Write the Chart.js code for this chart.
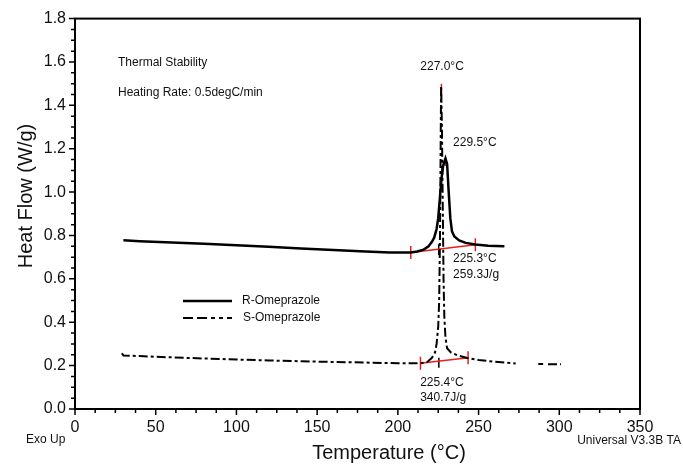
<!DOCTYPE html>
<html lang="en">
<head>
<meta charset="UTF-8">
<title>Thermal Stability</title>
<script src="https://cdn.jsdelivr.net/npm/chart.js"></script>
<style>
  body { margin: 0; background: #fff; }
  #wrap { width: 683px; height: 466px; position: relative; }
</style>
</head>
<body>
<div id="wrap"><canvas id="dsc"></canvas></div>
<script>
// R-Omeprazole trace (temperature in degC, heat flow in W/g)
const rTemp = [30, 40, 60, 80, 100, 120, 140, 160, 180, 195, 208, 212, 216, 219, 221, 222.5, 224, 225, 226, 227, 228, 229.5, 230.5, 231.5, 232.5, 233.5, 235, 238, 242, 248, 256, 266];
const rFlow = [0.778, 0.774, 0.768, 0.762, 0.755, 0.748, 0.740, 0.733, 0.726, 0.722, 0.722, 0.726, 0.735, 0.75, 0.77, 0.79, 0.83, 0.88, 0.97, 1.06, 1.12, 1.155, 1.13, 1.0, 0.88, 0.82, 0.795, 0.777, 0.766, 0.758, 0.753, 0.75];

// S-Omeprazole trace (null = gap in the recording)
const sTemp = [29, 30, 40, 60, 80, 100, 120, 140, 160, 180, 200, 214, 218, 221, 223, 224, 225, 225.6, 226.1, 226.5, 226.8, 227.3, 227.8, 228.3, 228.8, 229.5, 230.5, 233, 237, 243, 250, 260, 266, 273, 275, 287, 290, 291.5, 293, 301];
const sFlow = [0.257, 0.247, 0.244, 0.238, 0.233, 0.228, 0.224, 0.220, 0.217, 0.214, 0.211, 0.211, 0.216, 0.235, 0.26, 0.30, 0.38, 0.5, 0.8, 1.2, 1.49, 1.3, 0.95, 0.6, 0.42, 0.33, 0.28, 0.26, 0.247, 0.235, 0.226, 0.218, 0.214, 0.21, null, 0.207, 0.207, null, 0.206, 0.206];

// integration baselines and marks (red)
const rBaseT = [208, 248];
const rBaseF = [0.722, 0.757];
const sBaseT = [214, 243.5];
const sBaseF = [0.211, 0.236];
const rPeakT = 229.5, rPeakF = [1.12, 1.16];
const sPeakT = 227.0, sPeakF = [1.43, 1.50];
const rOnsetT = 225.3, rOnsetF = [0.71, 0.76];
const sOnsetT = 225.4, sOnsetF = [0.19, 0.236];

const xTickStep = 50, xMinorStep = 12.5;
const yTickStep = 0.2, yMinorStep = 0.05;

const font = '"Liberation Sans", Arial, Helvetica, sans-serif';

function pts(t, f) {
    return t.map((v, i) => ({ x: v, y: f[i] }));
}
function vtick(t, f) {
    return [{ x: t, y: f[0] }, { x: t, y: f[1] }];
}
function markSet(data, color, w) {
    return { data: data, borderColor: color, borderWidth: w, pointRadius: 0, showLine: true, fill: false };
}

const redMarks = [
    markSet(pts(rBaseT, rBaseF), '#e8201c', 1.5),
    markSet(pts(sBaseT, sBaseF), '#e8201c', 1.5),
    markSet(vtick(rBaseT[0], [rBaseF[0] - 0.03, rBaseF[0] + 0.03]), '#e8201c', 1.5),
    markSet(vtick(rBaseT[1], [rBaseF[1] - 0.03, rBaseF[1] + 0.03]), '#e8201c', 1.5),
    markSet(vtick(sBaseT[0], [sBaseF[0] - 0.03, sBaseF[0] + 0.03]), '#e8201c', 1.5),
    markSet(vtick(sBaseT[1], [sBaseF[1] - 0.03, sBaseF[1] + 0.03]), '#e8201c', 1.5),
    markSet(vtick(rPeakT, rPeakF), '#e8201c', 1.5),
    markSet(vtick(sPeakT, sPeakF), '#e8201c', 1.5),
    markSet(vtick(rOnsetT, rOnsetF), '#000', 1.5),
    markSet(vtick(sOnsetT, sOnsetF), '#000', 1.5)
];

// frame, minor ticks and the text annotations
const decor = {
    id: 'decor',
    afterDraw(chart) {
        const { ctx, chartArea: a, scales: { x, y } } = chart;
        ctx.save();
        ctx.strokeStyle = '#000';
        ctx.lineWidth = 2;
        ctx.strokeRect(a.left, a.top, a.right - a.left, a.bottom - a.top);

        ctx.lineWidth = 1.5;
        ctx.beginPath();
        for (let v = 0; v <= 350.01; v += xMinorStep) {
            const px = x.getPixelForValue(v);
            const len = Math.abs(v % xTickStep) < 1e-6 ? 6 : 4;
            ctx.moveTo(px, a.bottom);
            ctx.lineTo(px, a.bottom + len);
        }
        for (let v = 0; v <= 1.8001; v += yMinorStep) {
            const py = y.getPixelForValue(v);
            const major = Math.abs(v / yTickStep - Math.round(v / yTickStep)) < 1e-6;
            ctx.moveTo(a.left, py);
            ctx.lineTo(a.left - (major ? 6 : 4), py);
        }
        ctx.stroke();

        // legend
        const lx0 = 183, lx1 = 232;
        ctx.lineWidth = 2.5;
        ctx.beginPath(); ctx.moveTo(lx0, 301); ctx.lineTo(lx1, 301); ctx.stroke();
        ctx.lineWidth = 2;
        ctx.setLineDash([10, 4, 10, 4, 4, 4, 4, 4]);
        ctx.beginPath(); ctx.moveTo(lx0, 318); ctx.lineTo(lx1, 318); ctx.stroke();
        ctx.setLineDash([]);

        ctx.fillStyle = '#111';
        ctx.textBaseline = 'middle';
        ctx.font = '12px ' + font;
        ctx.textAlign = 'left';
        ctx.fillText('R-Omeprazole', 242, 301);
        ctx.fillText('S-Omeprazole', 243, 318);
        ctx.fillText('Thermal Stability', 118, 63);
        ctx.fillText('Heating Rate: 0.5degC/min', 118, 93);

        const at = (t, f) => [x.getPixelForValue(t), y.getPixelForValue(f)];
        let p;
        ctx.textAlign = 'center';
        p = at(227.4, 1.576); ctx.fillText('227.0\u00B0C', p[0], p[1]);
        ctx.textAlign = 'left';
        p = at(234.2, 1.226); ctx.fillText('229.5\u00B0C', p[0], p[1]);
        p = at(234.2, 0.691); ctx.fillText('225.3\u00B0C', p[0], p[1]);
        p = at(234.2, 0.617); ctx.fillText('259.3J/g', p[0], p[1]);
        p = at(213.8, 0.12); ctx.fillText('225.4\u00B0C', p[0], p[1]);
        p = at(213.8, 0.05); ctx.fillText('340.7J/g', p[0], p[1]);

        ctx.fillText('Exo Up', 26, 440);
        ctx.textAlign = 'right';
        ctx.fillText('Universal V3.3B TA', 681, 441);

        ctx.font = '20px ' + font;
        ctx.textAlign = 'center';
        ctx.fillText('Temperature (\u00B0C)', 389, 453);
        ctx.translate(26, 196);
        ctx.rotate(-Math.PI / 2);
        ctx.fillText('Heat Flow (W/g)', 0, 0);
        ctx.restore();
    }
};

new Chart(document.getElementById('dsc'), {
    type: 'scatter',
    data: {
        datasets: [
            {
                label: 'R-Omeprazole',
                data: pts(rTemp, rFlow),
                borderColor: '#000',
                borderWidth: 2.5,
                pointRadius: 0,
                showLine: true,
                fill: false
            },
            {
                label: 'S-Omeprazole',
                data: pts(sTemp, sFlow),
                borderColor: '#000',
                borderWidth: 2,
                borderDash: [9, 3, 3, 3],
                pointRadius: 0,
                showLine: true,
                spanGaps: false,
                fill: false
            }
        ].concat(redMarks)
    },
    options: {
        responsive: true,
        maintainAspectRatio: false,
        animation: false,
        layout: { padding: { left: 0, right: 43, top: 18, bottom: 0 } },
        plugins: { legend: { display: false }, tooltip: { enabled: false } },
        scales: {
            x: {
                type: 'linear',
                min: 0,
                max: 350,
                afterFit: s => { s.height = 57; },
                grid: { display: false, drawTicks: false },
                border: { display: false },
                ticks: {
                    stepSize: xTickStep,
                    padding: 9,
                    color: '#111',
                    font: { family: font, size: 16 },
                    maxRotation: 0
                }
            },
            y: {
                min: 0,
                max: 1.8,
                afterFit: s => { s.width = 75; },
                grid: { display: false, drawTicks: false },
                border: { display: false },
                ticks: {
                    stepSize: yTickStep,
                    padding: 9,
                    color: '#111',
                    font: { family: font, size: 16 },
                    callback: v => v.toFixed(1)
                }
            }
        }
    },
    plugins: [decor]
});
</script>
</body>
</html>
